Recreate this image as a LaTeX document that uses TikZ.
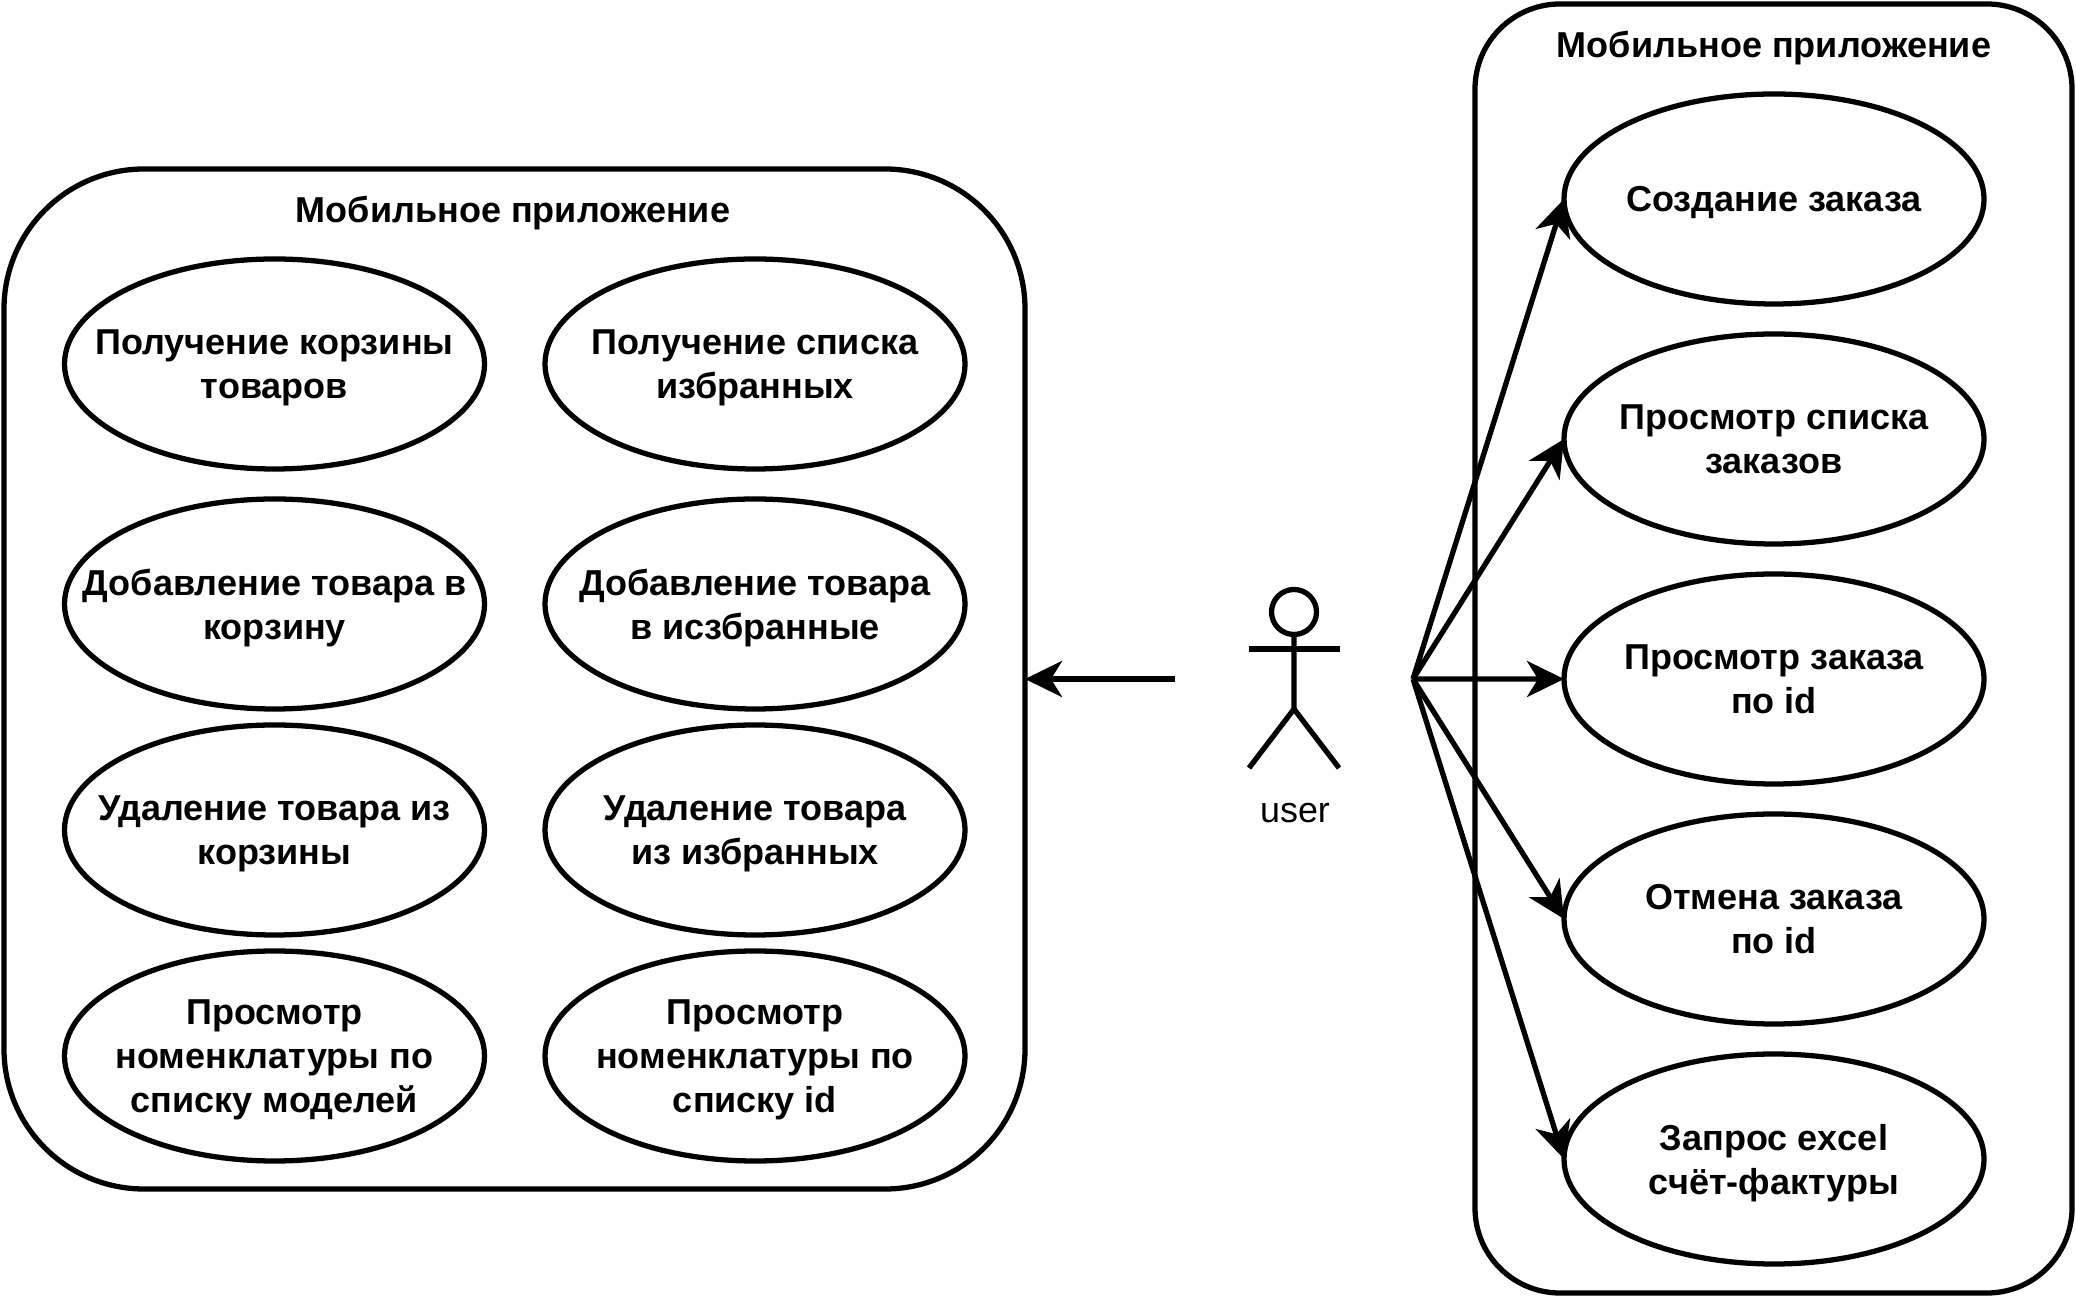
\documentclass[tikz,border=0pt]{standalone}
\usepackage{fontspec}
\setmainfont{Liberation Sans}
\usetikzlibrary{arrows.meta,shapes.geometric}
\tikzset{%
  >={Stealth[length=3.7mm,width=3.6mm,inset=1.1mm]},
  % Specifications for style of nodes:
          base/.style = {draw=black, line width=1.5pt, inner sep=0pt, outer sep=0pt,
                         align=center, font=\fontsize{10.25pt}{12.5pt}\selectfont\bfseries},
       usecase/.style = {base, ellipse, minimum width=4.2cm, minimum height=2.1cm,
                         inner xsep=-1cm, inner ysep=-0.4cm, text depth=0pt},
     container/.style = {base, rectangle},
         title/.style = {align=center, inner sep=0pt, font=\fontsize{10.25pt}{12.5pt}\selectfont\bfseries},
         actor/.style = {line width=1.5pt},
}

\begin{document}
\begin{tikzpicture}[node distance=2.26cm]
  \useasboundingbox (0,0) rectangle (20.76,12.96);

  % Containers behind everything
  \node (appLeft)  [container, rounded corners=1.4cm, minimum width=10.21cm, minimum height=10.2cm]
                   at (5.145,6.17) {};
  \node (appRight) [container, rounded corners=0.85cm, minimum width=5.97cm, minimum height=12.89cm]
                   at (17.735,6.475) {};
  \node (titleLeft)  [title] at (5.13,10.83) {Мобильное приложение};
  \node (titleRight) [title] at (17.74,12.48) {Мобильное приложение};

  % Left column
  \node (getCart)  [usecase] at (2.745,9.32) {Получение корзины\\товаров};
  \node (addCart)  [usecase, below of=getCart, yshift=-0.14cm] {Добавление товара в\\корзину};
  \node (delCart)  [usecase, below of=addCart]  {Удаление товара из\\корзины};
  \node (byModels) [usecase, below of=delCart]  {Просмотр\\номенклатуры по\\списку моделей};

  % Second column
  \node (getFav)   [usecase] at (7.55,9.32) {Получение списка\\избранных};
  \node (addFav)   [usecase, below of=getFav, yshift=-0.14cm] {Добавление товара\\в исзбранные};
  \node (delFav)   [usecase, below of=addFav]   {Удаление товара\\из избранных};
  \node (byIds)    [usecase, below of=delFav]   {Просмотр\\номенклатуры по\\списку id};

  % Orders column
  \node (create)   [usecase] at (17.74,10.97) {Создание заказа};
  \node (list)     [usecase, below of=create, yshift=-0.14cm] {Просмотр списка\\заказов};
  \node (show)     [usecase, below of=list, yshift=-0.14cm]   {Просмотр заказа\\по id};
  \node (cancel)   [usecase, below of=show, yshift=-0.14cm]   {Отмена заказа\\по id};
  \node (excel)    [usecase, below of=cancel, yshift=-0.14cm] {Запрос excel\\счёт-фактуры};

  % Actor, the invisible node gives the arrows their ends
  \node (user) [minimum width=2.38cm, minimum height=3.2cm, inner sep=0pt, outer sep=0pt] at (12.94,6.17) {};
  \node (userLabel) [inner sep=0pt, font=\fontsize{10.2pt}{12.5pt}\selectfont] at (12.95,4.83) {user};
  \draw[actor] (12.94,6.84) circle (0.225);
  \draw[actor] (12.94,6.615) -- (12.94,5.87) -- (12.49,5.28);
  \draw[actor] (12.94,5.87) -- (13.39,5.28);
  \draw[actor] (12.49,6.47) -- (13.40,6.47);

  % Lines between nodes
  \draw[->, line width=1.5pt] (user.west) -- (appLeft.east);
  \draw[->, line width=1.5pt] (user.east) -- (create.west);
  \draw[->, line width=1.5pt] (user.east) -- (list.west);
  \draw[->, line width=1.5pt] (user.east) -- (show.west);
  \draw[->, line width=1.5pt] (user.east) -- (cancel.west);
  \draw[->, line width=1.5pt] (user.east) -- (excel.west);
\end{tikzpicture}
\end{document}
